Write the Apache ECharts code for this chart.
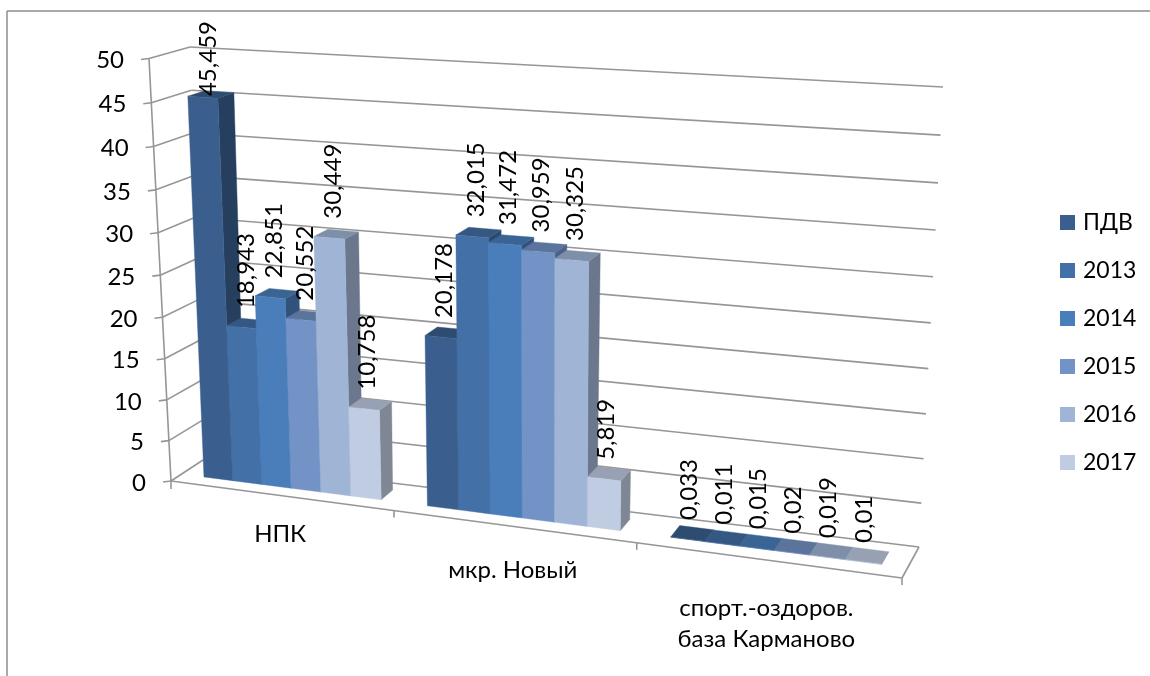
<!DOCTYPE html>
<html>
<head>
<meta charset="utf-8">
<style>html,body{margin:0;padding:0;background:#fff}#chart{width:1150px;height:676px}</style>
<script src="https://cdn.jsdelivr.net/npm/echarts@6/dist/echarts.min.js"></script>
</head>
<body>
<div id="chart"></div>
<script>
// Emissions by site and year, drawn as a perspective 3D column chart.
const categories = ['НПК', 'мкр. Новый', 'спорт.-оздоров.\nбаза Карманово'];
const seriesNames = ['ПДВ', '2013', '2014', '2015', '2016', '2017'];
const pdv = [45.459, 20.178, 0.033];
const y2013 = [18.943, 32.015, 0.011];
const y2014 = [22.851, 31.472, 0.015];
const y2015 = [20.552, 30.959, 0.02];
const y2016 = [30.449, 30.325, 0.019];
const y2017 = [10.758, 5.819, 0.01];
const yTicks = [0, 5, 10, 15, 20, 25, 30, 35, 40, 45, 50];
const colors = ['#3A5F8E', '#4370A6', '#4A7EBB', '#7393C6', '#A0B5D6', '#C0CCE2'];
const values = [pdv, y2013, y2014, y2015, y2016, y2017];

const FONT = 'Lato, "Open Sans", sans-serif';
const GRID_COLOR = '#969696';
const VALUE_FONT = '24px ' + FONT;
const LABEL_TOP_LIMIT = 21;

// Scene: floor corners and the on-screen vector of a full-height post at each corner.
const scene = {
  frontLeft: [171, 481], frontRight: [902, 578],
  backLeft: [203, 460], backRight: [919, 547],
  upFrontLeft: [-22, -422.5], upFrontRight: [17, -470],
  upBackLeft: [-13, -413], upBackRight: [24, -460],
  persp: -0.0407, lean: 0.05
};
const CAT_GAP = 0.105, GROUP_SPAN = 0.8, DEPTH_NEAR = 0.33, DEPTH_FAR = 0.74;

const mix = (a, b, k) => [a[0] + (b[0] - a[0]) * k, a[1] + (b[1] - a[1]) * k];

// Maps normalised axis fractions (category fraction, depth, height fraction) to the screen.
function project(fx, depth, fy) {
  const u = fx * 3;
  const t = (u / (1 + scene.persp * u)) / (3 / (1 + scene.persp * 3));
  const base = mix(mix(scene.frontLeft, scene.frontRight, t), mix(scene.backLeft, scene.backRight, t), depth);
  const up = mix(mix(scene.upFrontLeft, scene.upFrontRight, t), mix(scene.upBackLeft, scene.upBackRight, t), depth);
  const h = fy * (1 - scene.lean) / (1 - scene.lean * fy);
  return [base[0] + up[0] * h, base[1] + up[1] * h];
}

// Reads the chart's hidden cartesian scales, so every mark goes through the axes.
function scenePoint(api, params, u, depth, v) {
  const cs = params.coordSys;
  const p = api.coord([u, v]);
  return project((p[0] - cs.x) / cs.width, depth, 1 - (p[1] - cs.y) / cs.height);
}

function shade(hex, k) {
  const n = parseInt(hex.slice(1), 16);
  const c = [n >> 16, (n >> 8) & 255, n & 255].map(x => Math.round(x * k));
  return 'rgb(' + c.join(',') + ')';
}

function poly(points, fill) {
  return { type: 'polygon', shape: { points }, style: { fill, stroke: fill, lineWidth: 0.4 } };
}

function columnSpan(cat, idx) {
  const w = GROUP_SPAN / seriesNames.length;
  const a = cat + CAT_GAP + idx * w;
  return [a, a + w];
}

function renderColumn(idx) {
  return function (params, api) {
    const cat = api.value(0), v = api.value(1);
    const [a, b] = columnSpan(cat, idx);
    const P = (u, d, h) => scenePoint(api, params, u, d, h);
    const col = colors[idx];
    return {
      type: 'group',
      children: [
        poly([P(b, DEPTH_NEAR, 0), P(b, DEPTH_FAR, 0), P(b, DEPTH_FAR, v), P(b, DEPTH_NEAR, v)], shade(col, 0.66)),
        poly([P(a, DEPTH_NEAR, v), P(b, DEPTH_NEAR, v), P(b, DEPTH_FAR, v), P(a, DEPTH_FAR, v)], shade(col, 0.79)),
        poly([P(a, DEPTH_NEAR, 0), P(b, DEPTH_NEAR, 0), P(b, DEPTH_NEAR, v), P(a, DEPTH_NEAR, v)], col)
      ]
    };
  };
}

const measureCtx = document.createElement('canvas').getContext('2d');
measureCtx.font = VALUE_FONT;

function renderValueLabel(params, api) {
  const idx = api.value(2), cat = api.value(0), v = api.value(1);
  const [a, b] = columnSpan(cat, idx);
  const mid = (a + b) / 2;
  const front = scenePoint(api, params, mid, DEPTH_NEAR, v);
  const cap = scenePoint(api, params, mid, (DEPTH_NEAR + DEPTH_FAR) / 2, v);
  const text = String(v).replace('.', ',');
  // A label too tall for the space above its column is pushed down to stay inside the plot.
  const y = Math.max(front[1] - 19, LABEL_TOP_LIMIT + measureCtx.measureText(text).width);
  return {
    type: 'text',
    x: cap[0] - 2.5,
    y,
    rotation: Math.PI / 2,
    style: { text, font: VALUE_FONT, fill: '#000', align: 'left', verticalAlign: 'middle' }
  };
}

// Walls, floor outline, ticks and axis captions.
function renderFrame(params, api) {
  const P = (u, d, h) => scenePoint(api, params, u, d, h);
  const line = (p, q) => ({
    type: 'line', shape: { x1: p[0], y1: p[1], x2: q[0], y2: q[1] },
    style: { stroke: GRID_COLOR, lineWidth: 1.6 }
  });
  const kids = [];
  yTicks.forEach(v => {
    const f = P(0, 0, v), b = P(0, 1, v), r = P(3, 1, v);
    kids.push(line(f, b), line(b, r), line([f[0] - 8, f[1] + 1], f));
    kids.push({
      type: 'text',
      style: { text: String(v), x: f[0] - 25, y: f[1] + 2, font: '24px ' + FONT, fill: '#000', align: 'right', verticalAlign: 'middle' }
    });
  });
  kids.push(line(P(0, 0, 0), P(0, 0, 50)));
  kids.push(line(P(0, 0, 0), P(3, 0, 0)));
  kids.push(line(P(3, 0, 0), P(3, 1, 0)));
  categories.forEach((c, i) => {
    const t = P(i + 1, 0, 0);
    kids.push(line(t, [t[0], t[1] + 7]));
    const m = P(i + 0.5, 0, 0);
    const lines = c.split('\n').length;
    kids.push({
      type: 'text',
      style: {
        text: c, x: m[0], y: m[1] + 38.5 + 5 * i + (lines - 1) * 15.5, font: '24px ' + FONT, fill: '#000',
        align: 'center', verticalAlign: 'middle', lineHeight: 31
      }
    });
  });
  const t0 = P(0, 0, 0);
  kids.push(line(t0, [t0[0], t0[1] + 8]));
  return { type: 'group', children: kids };
}

const chart = echarts.init(document.getElementById('chart'));
const flatLabels = [];
values.forEach((arr, s) => arr.forEach((v, c) => flatLabels.push([c, v, s])));

chart.setOption({
  animation: false,
  backgroundColor: '#fff',
  grid: { left: 0, right: 0, top: 0, bottom: 0 },
  xAxis: { type: 'value', min: 0, max: 3, show: false },
  yAxis: { type: 'value', min: 0, max: 50, interval: 5, show: false },
  legend: {
    orient: 'vertical', left: 1060, top: 211, padding: 0, itemWidth: 15, itemHeight: 15, itemGap: 25,
    icon: 'rect', data: seriesNames, selectedMode: false, itemStyle: { borderWidth: 0 },
    textStyle: { fontFamily: FONT, fontSize: 23, lineHeight: 22, color: '#000', padding: [0, 0, 0, 3] }
  },
  graphic: [
    { type: 'line', shape: { x1: 7, y1: 11, x2: 1150, y2: 11 }, style: { stroke: '#8c8c8c', lineWidth: 1.5 }, silent: true },
    { type: 'line', shape: { x1: 7, y1: 11, x2: 7, y2: 676 }, style: { stroke: '#8c8c8c', lineWidth: 1.5 }, silent: true }
  ],
  series: [
    { type: 'custom', name: 'frame', coordinateSystem: 'cartesian2d', clip: false, silent: true, z: 1, data: [[0, 0]], renderItem: renderFrame },
    ...seriesNames.map((name, s) => ({
      type: 'custom', name, coordinateSystem: 'cartesian2d', clip: false, silent: true, z: 2,
      itemStyle: { color: colors[s] },
      data: values[s].map((v, c) => [c, v]),
      renderItem: renderColumn(s)
    })),
    { type: 'custom', name: 'values', coordinateSystem: 'cartesian2d', clip: false, silent: true, z: 3, data: flatLabels, renderItem: renderValueLabel }
  ]
});
</script>
</body>
</html>
